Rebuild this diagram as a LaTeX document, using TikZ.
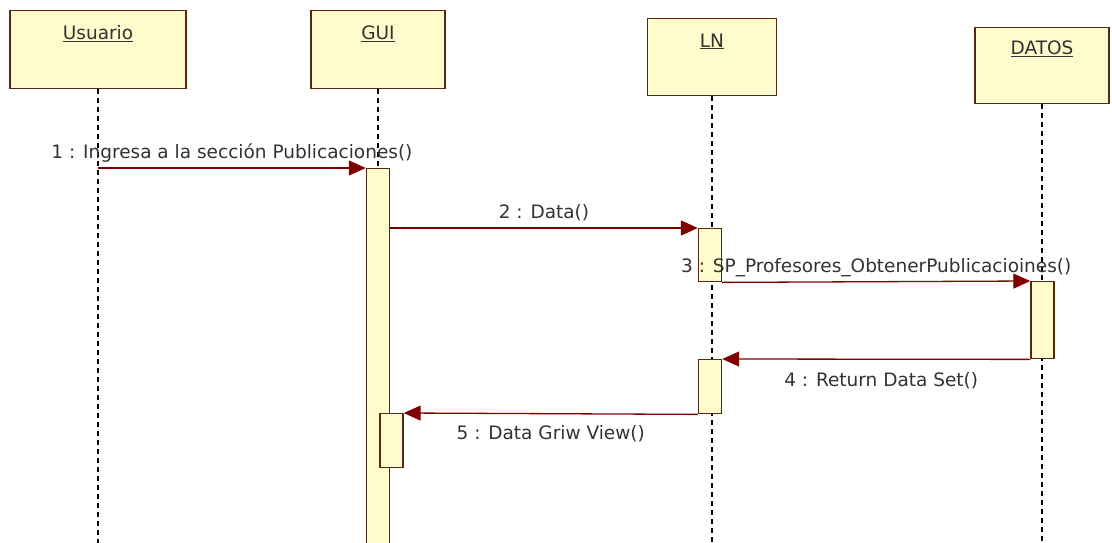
\documentclass[tikz,border=0pt]{standalone}
\usepackage{fontspec}
\setmainfont{DejaVu Sans}
\usepackage{xcolor}
\usetikzlibrary{arrows.meta,positioning,calc}

\definecolor{boxfill}{RGB}{255,251,204}
\definecolor{boxdraw}{RGB}{85,40,20}
\definecolor{msgred}{RGB}{128,0,0}
\definecolor{txtgray}{RGB}{50,50,50}

\tikzset{
  objbox/.style={draw=boxdraw,fill=boxfill,line width=1.4pt,inner sep=0pt},
  actbox/.style={draw=boxdraw,fill=boxfill,line width=1.4pt,inner sep=0pt,
    minimum width=23pt,anchor=north},
  lifeline/.style={black,line width=1.2pt,dash pattern=on 5pt off 4pt},
  msg/.style={msgred,line width=1.3pt,-{Triangle[length=17pt,width=15pt]}},
  msgtext/.style={text=txtgray,font=\fontsize{18.5}{20}\selectfont,inner sep=2.5pt}
}

\begin{document}
\begin{tikzpicture}[x=1pt,y=-1pt]
  \useasboundingbox (0,0) rectangle (1112,543);
  % objects
  \node[objbox,minimum width=176pt,minimum height=78pt,anchor=north,
    label={[msgtext,anchor=north,yshift=-13pt]north:\underline{Usuario}}] (usr) at (98,10) {};
  \node[objbox,minimum width=134pt,minimum height=78pt,anchor=north,
    label={[msgtext,anchor=north,yshift=-13pt]north:\underline{GUI}}] (gui) at (378,10) {};
  \node[objbox,minimum width=129pt,minimum height=77pt,anchor=north,
    label={[msgtext,anchor=north,yshift=-13pt]north:\underline{LN}}] (ln) at (712,18) {};
  \node[objbox,minimum width=134pt,minimum height=76pt,anchor=north,
    label={[msgtext,anchor=north,yshift=-11pt]north:\underline{DATOS}}] (dat) at (1042,27) {};
  % lifelines
  \coordinate (usrend) at (usr.south |- 0,543);
  \coordinate (guiend) at (gui.south |- 0,543);
  \coordinate (lnend)  at (ln.south |- 0,543);
  \coordinate (datend) at (dat.south |- 0,543);
  \draw[lifeline] (usr.south) -- (usrend);
  \draw[lifeline] (gui.south) -- (guiend);
  \draw[lifeline] (ln.south) -- (lnend);
  \draw[lifeline] (dat.south) -- (datend);
  % activations
  \node[actbox,minimum height=380pt] (gact1) at (378,168) {};
  \node[actbox,minimum height=53pt] (lact1) at (710,228) {};
  \node[actbox,minimum height=77pt] (dact1) at (1042.5,281) {};
  \node[actbox,minimum height=54pt] (lact2) at (710,359) {};
  \node[actbox,minimum height=54pt] (gact2) at (391.5,413) {};
  \coordinate (usrm1) at (usr.south |- gact1.north);
  % messages
  \draw[msg] (usrm1) -- (gact1.north west)
    node[midway,above,msgtext,yshift=3pt] {1 : Ingresa a la sección Publicaciones()};
  \draw[msg] (gact1.east |- lact1.north) -- (lact1.north west)
    node[midway,above,msgtext,yshift=4pt] {2 : Data()};
  \draw[msg] (lact1.south east) -- (dact1.north west)
    node[midway,above,msgtext,yshift=2pt] {3 : SP\_Profesores\_ObtenerPublicacioines()};
  \draw[msg] (dact1.south west) -- (lact2.north east)
    node[midway,below,msgtext,yshift=-10pt,xshift=5pt] {4 : Return Data Set()};
  \draw[msg] (lact2.south west) -- (gact2.north east)
    node[midway,below,msgtext,yshift=-9pt] {5 : Data Griw View()};
\end{tikzpicture}
\end{document}
